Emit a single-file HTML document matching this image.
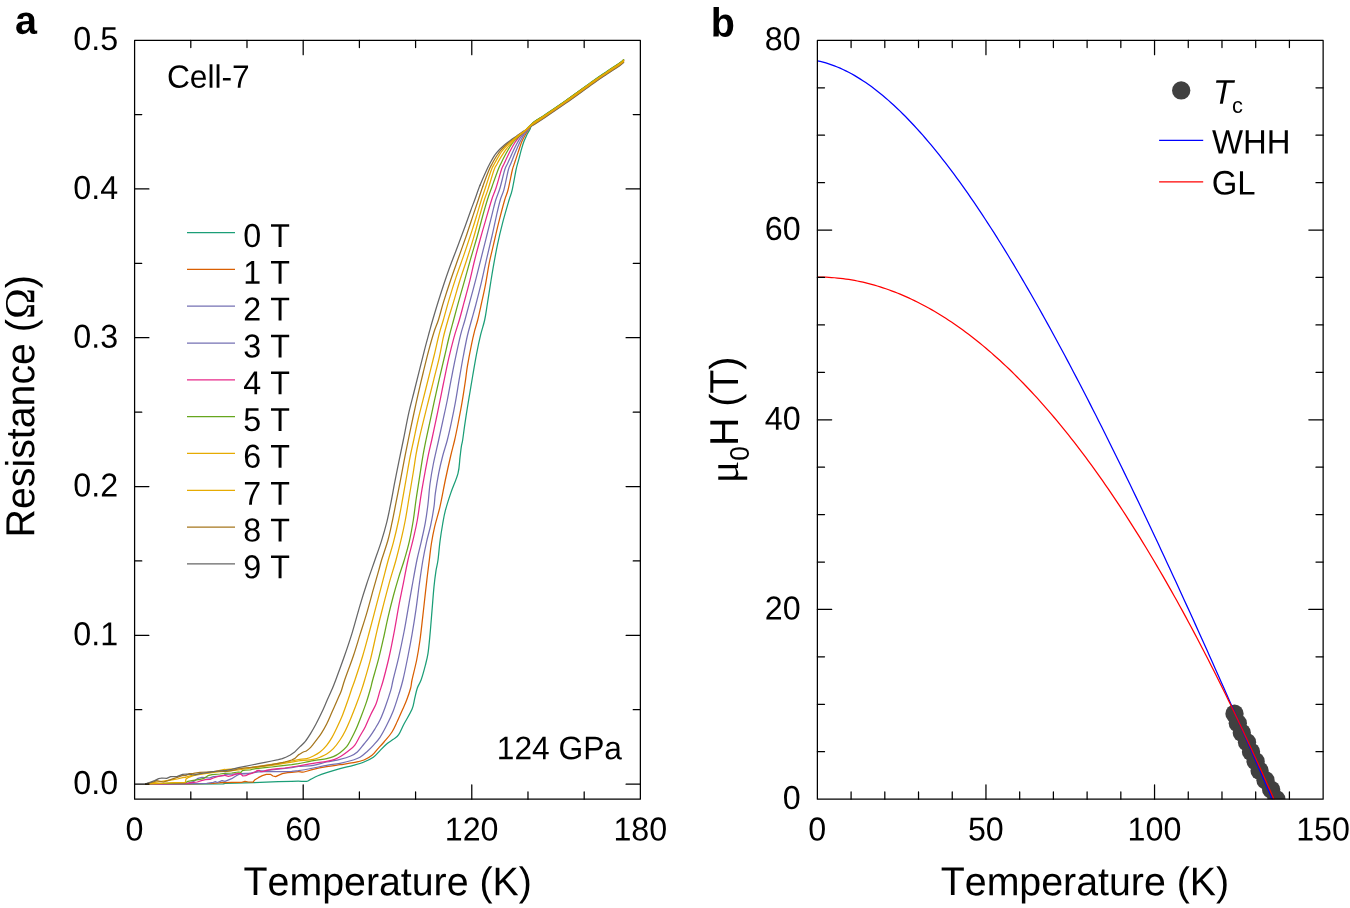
<!DOCTYPE html>
<html lang="en"><head><meta charset="utf-8"><title>Resistance vs temperature and upper critical field</title>
<style>html,body{margin:0;padding:0;background:#fff}body{width:1350px;height:908px;overflow:hidden}svg text{white-space:pre;font-kerning:none;text-rendering:geometricPrecision}</style>
</head><body>
<svg width="1350" height="908" viewBox="0 0 1350 908" style="display:block" font-family='"Liberation Sans", sans-serif' fill="#000">
<rect x="0" y="0" width="1350" height="908" fill="#fff"/>
<g id="plot-a">
<clipPath id="ca"><rect x="134.6" y="40.375" width="505.775" height="758.755"/></clipPath>
<g clip-path="url(#ca)" fill="none" stroke-width="1.25" stroke-linejoin="round" stroke-linecap="round">
<path d="M480 185.33C482 180.33 485 173.67 486.67 170C488.33 166.33 488.89 165.44 490 163.33C491.11 161.22 492.22 159.11 493.33 157.33C494.44 155.56 495.56 154.06 496.67 152.67C497.78 151.28 498.67 150.33 500 149C501.33 147.67 503 146.06 504.67 144.67C506.33 143.28 508 142.11 510 140.67C512 139.22 514.44 137.56 516.67 136C518.89 134.44 520.61 133.12 523.33 131.33C526.06 129.55 529.39 127.61 533 125.3C536.61 122.99 539.5 121.2 545 117.5C550.5 113.8 557.95 108.77 566 103.1C574.05 97.43 586.52 88.3 593.3 83.5C600.08 78.7 602.25 77.32 606.7 74.3C611.15 71.28 617.18 67.38 620 65.4C622.82 63.42 623 62.9 623.6 62.4" stroke="#666666"/>
<path d="M482.67 186.67C484.46 181.67 487.44 173.78 489 170C490.56 166.22 490.94 166 492 164C493.06 162 494.33 159.67 495.33 158C496.33 156.33 497 155.39 498 154C499 152.61 500 151.17 501.33 149.67C502.67 148.17 504.33 146.5 506 145C507.67 143.5 509.44 142.14 511.33 140.67C513.22 139.19 515.22 137.67 517.33 136.13C519.44 134.6 521.39 133.36 524 131.47C526.61 129.58 529.5 127.21 533 124.8C536.5 122.39 539.5 120.7 545 117C550.5 113.3 557.95 108.27 566 102.6C574.05 96.93 586.52 87.8 593.3 83C600.08 78.2 602.25 76.82 606.7 73.8C611.15 70.78 617.18 66.88 620 64.9C622.82 62.92 623 62.4 623.6 61.9" stroke="#a6761d"/>
<path d="M145.67 784.2L186.67 784.07L223.33 783.87L225 783.33L253.67 782.67L278.33 781.67L291.67 781.33L298.33 781.2C300.83 781.2 304.61 781.64 306.67 781.33C308.72 781.02 308.89 780.22 310.67 779.33C312.44 778.44 314.67 777.11 317.33 776C320 774.89 322.89 773.89 326.67 772.67C330.44 771.44 335.56 769.89 340 768.67C344.44 767.44 349.33 766.44 353.33 765.33C357.33 764.22 360.67 763.33 364 762C367.33 760.67 370.67 759.22 373.33 757.33C376 755.44 377.78 752.89 380 750.67C382.22 748.44 384.44 745.89 386.67 744C388.89 742.11 391.33 740.89 393.33 739.33C395.33 737.78 396.89 737.22 398.67 734.67C400.44 732.11 401.78 728.22 404 724C406.22 719.78 410.22 713.56 412 709.33C413.78 705.11 413.78 702.22 414.67 698.67C415.56 695.11 416.27 691.11 417.33 688C418.4 684.89 419.73 683.78 421.07 680C422.4 676.22 424.18 669.78 425.33 665.33C426.49 660.89 427.22 658.44 428 653.33C428.78 648.22 429.33 641.78 430 634.67C430.67 627.56 431.33 618.67 432 610.67C432.67 602.67 433.33 593.33 434 586.67C434.67 580 435.33 575.11 436 570.67C436.67 566.22 437.33 564.89 438 560C438.67 555.11 439.22 547.33 440 541.33C440.78 535.33 441.78 529.11 442.67 524C443.56 518.89 444 515.78 445.33 510.67C446.67 505.56 448.56 499.56 450.67 493.33C452.78 487.11 456.44 479.33 458 473.33C459.56 467.33 459.44 461.78 460 457.33C460.56 452.89 460.89 449.56 461.33 446.67C461.78 443.78 462.11 443.56 462.67 440C463.22 436.44 463.89 430.67 464.67 425.33C465.44 420 466.44 413.56 467.33 408C468.22 402.44 469.11 397.33 470 392C470.89 386.67 471.56 382.44 472.67 376C473.78 369.56 475.33 360.22 476.67 353.33C478 346.44 479.33 340.22 480.67 334.67C482 329.11 483.56 325.11 484.67 320C485.78 314.89 486.33 310.22 487.33 304C488.33 297.78 489.67 288.89 490.67 282.67C491.67 276.44 492.22 272.89 493.33 266.67C494.44 260.44 495.78 252.67 497.33 245.33C498.89 238 500.71 230.22 502.67 222.67C504.62 215.11 507.51 205.33 509.07 200C510.62 194.67 510.84 195.67 512 190.67C513.16 185.67 515.11 174.33 516 170C516.89 165.67 516.83 166.56 517.33 164.67C517.83 162.78 518.5 160.56 519 158.67C519.5 156.78 519.83 155.22 520.33 153.33C520.83 151.44 521.39 149.33 522 147.33C522.61 145.33 523.33 143.11 524 141.33C524.67 139.56 525.33 138.11 526 136.67C526.67 135.22 527.33 133.89 528 132.67C528.67 131.44 529.11 131.03 530 129.33C530.89 127.63 530.83 124.89 533.33 122.47C535.83 120.04 539.56 118.48 545 114.8C550.44 111.12 557.95 106.07 566 100.4C574.05 94.73 586.52 85.6 593.3 80.8C600.08 76 602.25 74.62 606.7 71.6C611.15 68.58 617.18 64.68 620 62.7C622.82 60.72 623 60.2 623.6 59.7" stroke="#1b9e77"/>
<path d="M145.67 784.2L186.67 783.8L213.33 783.33L223.33 782.47L225 782.67L231.67 782.33L241.67 782.33L245 781.33L248.33 782L253 782.2L255 779.67L258.33 777.67L262.33 775.67L266.33 774.33L270.33 774.33L273 776L275.67 776.67L278.33 775.33L282.33 773.67L287.67 772.67L291.67 772.33L298.33 771.67C300.39 771.61 301.5 772.39 304 772C306.5 771.61 309.56 770.22 313.33 769.33C317.11 768.44 322.22 767.44 326.67 766.67C331.11 765.89 335.56 765.33 340 764.67C344.44 764 349.33 763.44 353.33 762.67C357.33 761.89 360.89 761.22 364 760C367.11 758.78 369.78 757.11 372 755.33C374.22 753.56 375.33 751.56 377.33 749.33C379.33 747.11 381.56 744.89 384 742C386.44 739.11 389.78 735.44 392 732C394.22 728.56 395.56 725.11 397.33 721.33C399.11 717.56 401.11 712.89 402.67 709.33C404.22 705.78 405.33 703.56 406.67 700C408 696.44 409.78 691.33 410.67 688C411.56 684.67 411 684.67 412 680C413 675.33 415.33 666.67 416.67 660C418 653.33 419 647.11 420 640C421 632.89 421.78 625.11 422.67 617.33C423.56 609.56 424.56 600.22 425.33 593.33C426.11 586.44 426.67 581.56 427.33 576C428 570.44 428.67 565.33 429.33 560C430 554.67 430.44 549.56 431.33 544C432.22 538.44 433.22 532.89 434.67 526.67C436.11 520.44 438.22 514.44 440 506.67C441.78 498.89 443.56 488.44 445.33 480C447.11 471.56 449.11 462.67 450.67 456C452.22 449.33 453.44 445.33 454.67 440C455.89 434.67 456.78 430.22 458 424C459.22 417.78 460.78 409.78 462 402.67C463.22 395.56 464.44 387.33 465.33 381.33C466.22 375.33 466.33 372.67 467.33 366.67C468.33 360.67 470.11 351.33 471.33 345.33C472.56 339.33 473.6 334.89 474.67 330.67C475.73 326.44 476.62 324.44 477.73 320C478.84 315.56 480.07 309.78 481.33 304C482.6 298.22 484 292.22 485.33 285.33C486.67 278.44 488 269.33 489.33 262.67C490.67 256 491.78 252 493.33 245.33C494.89 238.67 496.78 230.22 498.67 222.67C500.56 215.11 503.11 205.44 504.67 200C506.22 194.56 506.72 195 508 190C509.28 185 511.33 174.22 512.33 170C513.33 165.78 513.39 166.56 514 164.67C514.61 162.78 515.33 160.67 516 158.67C516.67 156.67 517.33 154.67 518 152.67C518.67 150.67 519.33 148.56 520 146.67C520.67 144.78 521.22 143.11 522 141.33C522.78 139.56 523.78 137.67 524.67 136C525.56 134.33 526.56 132.56 527.33 131.33C528.11 130.11 528.39 130.06 529.33 128.67C530.28 127.28 530.39 125.24 533 123C535.61 120.76 539.5 118.9 545 115.2C550.5 111.5 557.95 106.47 566 100.8C574.05 95.13 586.52 86 593.3 81.2C600.08 76.4 602.25 75.02 606.7 72C611.15 68.98 617.18 65.08 620 63.1C622.82 61.12 623 60.6 623.6 60.1" stroke="#d95f02"/>
<path d="M145.67 784.13L206.67 783.33L213.33 782.33L215.33 781.67L217.33 782.47L222 780.67L225 781.33L231.67 778.67L236.33 775.67L240.33 773.8L245 774L251.67 773L258.33 772L265 771.67L271.67 771.53L278.33 771.67L285 771.67L291.67 771.33L298.33 770.67C301.94 770.11 308.61 768.89 313.33 768C318.06 767.11 322.22 766.11 326.67 765.33C331.11 764.56 335.56 764.22 340 763.33C344.44 762.44 350 761 353.33 760C356.67 759 357.78 758.67 360 757.33C362.22 756 364.44 754 366.67 752C368.89 750 371.11 747.78 373.33 745.33C375.56 742.89 377.78 740.67 380 737.33C382.22 734 384.44 729.78 386.67 725.33C388.89 720.89 391.33 715.78 393.33 710.67C395.33 705.56 397.07 699.78 398.67 694.67C400.27 689.56 401.38 686.44 402.93 680C404.49 673.56 406.49 663.56 408 656C409.51 648.44 410.67 642.44 412 634.67C413.33 626.89 414.78 617.78 416 609.33C417.22 600.89 418.18 592.22 419.33 584C420.49 575.78 421.71 567.11 422.93 560C424.16 552.89 425.38 547.11 426.67 541.33C427.96 535.56 429.44 531.11 430.67 525.33C431.89 519.56 433.22 512 434 506.67C434.78 501.33 434.56 498.89 435.33 493.33C436.11 487.78 437.44 479.56 438.67 473.33C439.89 467.11 441.22 461.56 442.67 456C444.11 450.44 445.89 445.56 447.33 440C448.78 434.44 450 428.89 451.33 422.67C452.67 416.44 454 410 455.33 402.67C456.67 395.33 458 386.44 459.33 378.67C460.67 370.89 462 363.11 463.33 356C464.67 348.89 465.96 342 467.33 336C468.71 330 470.16 325.33 471.6 320C473.04 314.67 474.38 310.22 476 304C477.62 297.78 479.56 290.22 481.33 282.67C483.11 275.11 484.89 266.44 486.67 258.67C488.44 250.89 490.33 243.33 492 236C493.67 228.67 495.29 220.67 496.67 214.67C498.04 208.67 499.04 204.22 500.27 200C501.49 195.78 502.66 194.33 504 189.33C505.34 184.33 507.22 174.22 508.33 170C509.44 165.78 509.83 166.11 510.67 164C511.5 161.89 512.44 159.56 513.33 157.33C514.22 155.11 515.11 152.78 516 150.67C516.89 148.56 517.78 146.56 518.67 144.67C519.56 142.78 520.44 141 521.33 139.33C522.22 137.67 523.11 136 524 134.67C524.89 133.33 525.17 133.18 526.67 131.33C528.17 129.49 529.94 126.19 533 123.6C536.06 121.01 539.5 119.5 545 115.8C550.5 112.1 557.95 107.07 566 101.4C574.05 95.73 586.52 86.6 593.3 81.8C600.08 77 602.25 75.62 606.7 72.6C611.15 69.58 617.18 65.68 620 63.7C622.82 61.72 623 61.2 623.6 60.7" stroke="#7570b3"/>
<path d="M145.67 784.13L186.67 783.53L193.33 781.67L198 778.33L202 777.33L205.33 777.67L209.33 778.13L213.33 776.67L220 776L224 775.67L225 774.33L231.67 774.2L240.33 773.67L251.67 773L258.33 770.87L265 770.67L271.67 770L278.33 769.13L285 768.47L291.67 767.67L298.33 766.47C301.94 766.08 308.61 766.08 313.33 765.33C318.06 764.59 322.22 763 326.67 762C331.11 761 336 760.33 340 759.33C344 758.33 347.78 757.22 350.67 756C353.56 754.78 355.11 754 357.33 752C359.56 750 362 746.44 364 744C366 741.56 367.56 739.78 369.33 737.33C371.11 734.89 372.89 732.22 374.67 729.33C376.44 726.44 378.22 723.78 380 720C381.78 716.22 383.56 711.56 385.33 706.67C387.11 701.78 389.38 695.11 390.67 690.67C391.96 686.22 391.73 685.56 393.07 680C394.4 674.44 396.84 665.33 398.67 657.33C400.49 649.33 402.44 640 404 632C405.56 624 406.67 616.89 408 609.33C409.33 601.78 410.51 594.89 412 586.67C413.49 578.44 415.38 567.56 416.93 560C418.49 552.44 419.93 547.56 421.33 541.33C422.73 535.11 424.22 528.89 425.33 522.67C426.44 516.44 427.22 510.44 428 504C428.78 497.56 429.11 490.67 430 484C430.89 477.33 431.89 471.33 433.33 464C434.78 456.67 437 447.56 438.67 440C440.33 432.44 441.89 425.33 443.33 418.67C444.78 412 446 406.67 447.33 400C448.67 393.33 450 385.56 451.33 378.67C452.67 371.78 453.78 366 455.33 358.67C456.89 351.33 459.07 341.11 460.67 334.67C462.27 328.22 463.27 326 464.93 320C466.6 314 468.82 305.56 470.67 298.67C472.51 291.78 474.22 285.56 476 278.67C477.78 271.78 479.56 264.44 481.33 257.33C483.11 250.22 484.89 243.11 486.67 236C488.44 228.89 490.49 220.67 492 214.67C493.51 208.67 494.4 204.44 495.73 200C497.07 195.56 498.51 193 500 188C501.49 183 503.44 174 504.67 170C505.89 166 506.33 166.22 507.33 164C508.33 161.78 509.67 158.89 510.67 156.67C511.67 154.44 512.33 152.78 513.33 150.67C514.33 148.56 515.67 145.89 516.67 144C517.67 142.11 518.44 140.72 519.33 139.33C520.22 137.94 521 136.94 522 135.67C523 134.39 523.5 133.68 525.33 131.67C527.17 129.66 529.72 126.24 533 123.6C536.28 120.96 539.5 119.5 545 115.8C550.5 112.1 557.95 107.07 566 101.4C574.05 95.73 586.52 86.6 593.3 81.8C600.08 77 602.25 75.62 606.7 72.6C611.15 69.58 617.18 65.68 620 63.7C622.82 61.72 623 61.2 623.6 60.7" stroke="#7570b3"/>
<path d="M145.67 784.07L186.67 783.33L192 782.67L197.33 782L201.33 780.67L205.33 779.67L210 779.33L213.33 778L217.33 776.67L223.33 775.33L225 775.33L228.33 776.33L231.67 775.67L235 774.33L238.33 773.33L240.33 773.67L243 776L245.67 775.67L248.33 774.33L251.67 773.33L255 772L257 770.67L259 770.33L261 771.67L263.67 771.33L266.33 770.33L271.67 769.33L278.33 768.67L285 768L291.67 767L298.33 766C301.94 765.39 308.61 764.11 313.33 763.33C318.06 762.56 323.11 762 326.67 761.33C330.22 760.67 332.22 760.22 334.67 759.33C337.11 758.44 339.11 757.33 341.33 756C343.56 754.67 345.78 753.11 348 751.33C350.22 749.56 352.67 747.89 354.67 745.33C356.67 742.78 358.22 739.11 360 736C361.78 732.89 363.56 730.22 365.33 726.67C367.11 723.11 368.89 718.44 370.67 714.67C372.44 710.89 374.44 708 376 704C377.56 700 378.78 694.67 380 690.67C381.22 686.67 381.78 685.78 383.33 680C384.89 674.22 387.44 664.44 389.33 656C391.22 647.56 393.11 637.56 394.67 629.33C396.22 621.11 397.33 613.78 398.67 606.67C400 599.56 401.11 594.44 402.67 586.67C404.22 578.89 406.22 568 408 560C409.78 552 411.78 545.33 413.33 538.67C414.89 532 416 527.56 417.33 520C418.67 512.44 420 501.56 421.33 493.33C422.67 485.11 424.11 477.33 425.33 470.67C426.56 464 427.6 458.44 428.67 453.33C429.73 448.22 430.51 445.56 431.73 440C432.96 434.44 434.51 427.11 436 420C437.49 412.89 439.44 403.33 440.67 397.33C441.89 391.33 442 390.44 443.33 384C444.67 377.56 446.89 366.44 448.67 358.67C450.44 350.89 452.22 343.78 454 337.33C455.78 330.89 457.67 325.78 459.33 320C461 314.22 462.33 308.89 464 302.67C465.67 296.44 467.56 289.78 469.33 282.67C471.11 275.56 472.89 267.11 474.67 260C476.44 252.89 478.22 246.44 480 240C481.78 233.56 483.4 228 485.33 221.33C487.27 214.67 489.82 205.56 491.6 200C493.38 194.44 494.38 193 496 188C497.62 183 500 174 501.33 170C502.67 166 503 166.22 504 164C505 161.78 506.22 159 507.33 156.67C508.44 154.33 509.56 152.11 510.67 150C511.78 147.89 513 145.67 514 144C515 142.33 515.67 141.33 516.67 140C517.67 138.67 518.78 137.28 520 136C521.22 134.72 521.83 134.4 524 132.33C526.17 130.27 529.5 126.36 533 123.6C536.5 120.84 539.5 119.5 545 115.8C550.5 112.1 557.95 107.07 566 101.4C574.05 95.73 586.52 86.6 593.3 81.8C600.08 77 602.25 75.62 606.7 72.6C611.15 69.58 617.18 65.68 620 63.7C622.82 61.72 623 61.2 623.6 60.7" stroke="#e7298a"/>
<path d="M145.67 784L185.33 782.87L188 781.33L193.33 780.33L200 779.33L204 778.33L208 775.67L212 774.67L220 774L224.67 773.4L225 773.33L231.67 773L238.33 772L241 772.33L242.33 770.67L245 770.2L250.33 770L251.67 769.33L258.33 768.33L265 767.67L271.67 767L278.33 766.2L285 765.33L291.67 764.67L298.33 763.67C301.94 763 308.61 761.5 313.33 760.67C318.06 759.83 323.33 759.33 326.67 758.67C330 758 331.11 757.67 333.33 756.67C335.56 755.67 337.78 754.33 340 752.67C342.22 751 344.89 748.78 346.67 746.67C348.44 744.56 349.11 742.89 350.67 740C352.22 737.11 354.22 733.33 356 729.33C357.78 725.33 359.56 720.67 361.33 716C363.11 711.33 365.11 706 366.67 701.33C368.22 696.67 369.67 691.56 370.67 688C371.67 684.44 371.33 684.89 372.67 680C374 675.11 376.78 666 378.67 658.67C380.56 651.33 382.44 642.89 384 636C385.56 629.11 386.44 624 388 617.33C389.56 610.67 391.56 602.67 393.33 596C395.11 589.33 396.84 583.33 398.67 577.33C400.49 571.33 402.49 566 404.27 560C406.04 554 407.82 548 409.33 541.33C410.84 534.67 412.22 526.89 413.33 520C414.44 513.11 415 506.89 416 500C417 493.11 418.22 485.78 419.33 478.67C420.44 471.56 421.56 463.78 422.67 457.33C423.78 450.89 424.78 446 426 440C427.22 434 428.67 427.56 430 421.33C431.33 415.11 432.44 409.78 434 402.67C435.56 395.56 437.56 386.44 439.33 378.67C441.11 370.89 443 363.11 444.67 356C446.33 348.89 447.84 342 449.33 336C450.82 330 452.04 325.78 453.6 320C455.16 314.22 456.93 307.56 458.67 301.33C460.4 295.11 462 289.78 464 282.67C466 275.56 468.44 266.44 470.67 258.67C472.89 250.89 475.33 243.11 477.33 236C479.33 228.89 481 222 482.67 216C484.33 210 485.78 204.89 487.33 200C488.89 195.11 490.22 191.67 492 186.67C493.78 181.67 496.44 174 498 170C499.56 166 500.22 165 501.33 162.67C502.44 160.33 503.56 158.11 504.67 156C505.78 153.89 506.89 151.89 508 150C509.11 148.11 510.22 146.28 511.33 144.67C512.44 143.06 513.33 141.78 514.67 140.33C516 138.89 517.89 137.28 519.33 136C520.78 134.72 521.06 134.88 523.33 132.67C525.61 130.45 529.39 125.66 533 122.7C536.61 119.74 539.5 118.6 545 114.9C550.5 111.2 557.95 106.17 566 100.5C574.05 94.83 586.52 85.7 593.3 80.9C600.08 76.1 602.25 74.72 606.7 71.7C611.15 68.68 617.18 64.78 620 62.8C622.82 60.82 623 60.3 623.6 59.8" stroke="#66a61e"/>
<path d="M145.67 783.93L160 783.33L173.33 782.67L185.33 782.33L186 779L188 777.67L193.33 775.67L200 774.33L206.67 773.33L213.33 772.47L220 771.67L225 771.33L231.67 770.67L238.33 770L245 769L251.67 768L258.33 767.13L265 766.2L271.67 765.33L278.33 764.33L285 763.13L291.67 762.2L298.33 761C301.94 760.52 309.5 760.06 313.33 759.33C317.17 758.61 319.11 757.56 321.33 756.67C323.56 755.78 324.67 755.33 326.67 754C328.67 752.67 331.11 751 333.33 748.67C335.56 746.33 338 743 340 740C342 737 343.56 734.22 345.33 730.67C347.11 727.11 348.89 722.89 350.67 718.67C352.44 714.44 354.22 710 356 705.33C357.78 700.67 359.89 694.89 361.33 690.67C362.78 686.44 363.11 685.33 364.67 680C366.22 674.67 368.56 667.11 370.67 658.67C372.78 650.22 375.33 637.78 377.33 629.33C379.33 620.89 380.67 615.78 382.67 608C384.67 600.22 387.11 590.67 389.33 582.67C391.56 574.67 394 567.33 396 560C398 552.67 399.78 545.33 401.33 538.67C402.89 532 404 527.11 405.33 520C406.67 512.89 408 504 409.33 496C410.67 488 412.22 478.89 413.33 472C414.44 465.11 415.07 460 416 454.67C416.93 449.33 417.71 445.56 418.93 440C420.16 434.44 421.71 428 423.33 421.33C424.96 414.67 426.89 407.11 428.67 400C430.44 392.89 432.22 385.78 434 378.67C435.78 371.56 437.78 364.22 439.33 357.33C440.89 350.44 441.89 343.56 443.33 337.33C444.78 331.11 446.33 325.78 448 320C449.67 314.22 451.33 309.33 453.33 302.67C455.33 296 457.78 287.11 460 280C462.22 272.89 464.44 266.89 466.67 260C468.89 253.11 471.11 246.22 473.33 238.67C475.56 231.11 478.18 221.11 480 214.67C481.82 208.22 482.93 204.22 484.27 200C485.6 195.78 486.38 194.33 488 189.33C489.62 184.33 492.56 174.11 494 170C495.44 165.89 495.67 166.56 496.67 164.67C497.67 162.78 498.89 160.56 500 158.67C501.11 156.78 502.22 155 503.33 153.33C504.44 151.67 505.56 150.11 506.67 148.67C507.78 147.22 508.78 146.06 510 144.67C511.22 143.28 512.56 141.83 514 140.33C515.44 138.83 516.83 137.22 518.67 135.67C520.5 134.11 522.61 133.09 525 131C527.39 128.91 529.67 125.76 533 123.15C536.33 120.54 539.5 119.05 545 115.35C550.5 111.65 557.95 106.62 566 100.95C574.05 95.28 586.52 86.15 593.3 81.35C600.08 76.55 602.25 75.17 606.7 72.15C611.15 69.13 617.18 65.23 620 63.25C622.82 61.27 623 60.75 623.6 60.25" stroke="#e6ab02"/>
<path d="M145.67 783.93L153.33 782.67L160 781.67L166.67 780.67L173.33 779.67L177.33 779L182.67 777.67L185.33 777.33L188 776.33L193.33 775L200 774L206.67 773L213.33 772.2L220 770.33L224.67 769.33L225 769.53L230 769.13L238.33 768.67L245 768L251.67 767.33L258.33 766.33L265 765.33L271.67 764.33L278.33 763.33L285 762.2L291.67 761L298.33 759.53C300.83 759.14 304.17 759.26 306.67 758.67C309.17 758.08 311.11 757.11 313.33 756C315.56 754.89 317.78 753.78 320 752C322.22 750.22 324.67 747.78 326.67 745.33C328.67 742.89 330.22 740.44 332 737.33C333.78 734.22 335.56 730.44 337.33 726.67C339.11 722.89 340.89 719.11 342.67 714.67C344.44 710.22 346.44 704.44 348 700C349.56 695.56 350.84 691.33 352 688C353.16 684.67 353.16 685.33 354.93 680C356.71 674.67 360.27 664 362.67 656C365.07 648 367.11 640.22 369.33 632C371.56 623.78 373.78 615.11 376 606.67C378.22 598.22 380.62 589.11 382.67 581.33C384.71 573.56 386.49 566.44 388.27 560C390.04 553.56 391.6 549.33 393.33 542.67C395.07 536 397.11 527.33 398.67 520C400.22 512.67 401.33 506 402.67 498.67C404 491.33 405.44 482.89 406.67 476C407.89 469.11 408.82 463.33 410 457.33C411.18 451.33 412.4 446.22 413.73 440C415.07 433.78 416.4 426.89 418 420C419.6 413.11 421.56 405.78 423.33 398.67C425.11 391.56 426.89 384.44 428.67 377.33C430.44 370.22 432.22 363.33 434 356C435.78 348.67 437.78 339.33 439.33 333.33C440.89 327.33 441.67 325.78 443.33 320C445 314.22 447.22 305.78 449.33 298.67C451.44 291.56 453.56 284.67 456 277.33C458.44 270 461.33 262.44 464 254.67C466.67 246.89 469.78 237.56 472 230.67C474.22 223.78 475.78 218.44 477.33 213.33C478.89 208.22 480 204.22 481.33 200C482.67 195.78 483.67 193 485.33 188C487 183 489.78 174.11 491.33 170C492.89 165.89 493.56 165.44 494.67 163.33C495.78 161.22 496.89 159.22 498 157.33C499.11 155.44 500.22 153.56 501.33 152C502.44 150.44 503.44 149.33 504.67 148C505.89 146.67 507.33 145.28 508.67 144C510 142.72 511.11 141.72 512.67 140.33C514.22 138.94 516 137.22 518 135.67C520 134.11 522.17 132.94 524.67 131C527.17 129.06 529.61 126.51 533 124.05C536.39 121.59 539.5 119.95 545 116.25C550.5 112.55 557.95 107.52 566 101.85C574.05 96.18 586.52 87.05 593.3 82.25C600.08 77.45 602.25 76.07 606.7 73.05C611.15 70.03 617.18 66.13 620 64.15C622.82 62.17 623 61.65 623.6 61.15" stroke="#e6ab02"/>
<path d="M145.67 783.87L153.33 782L156.67 780.67L160 781.33L163.33 782L168 780.67L173.33 778.67L177.33 777.33L182.67 775.33L185.33 775.67L189.33 773.67L193.33 773.33L200 772.47L206.67 772L213.33 771.53L220 771L225 771.67L231.67 770.67L238.33 769L245 768L251.67 767.33L258.33 766.67L265 765.67L271.67 764.67L278.33 763.33L285 762L291.67 760L295 758.33L298.33 755C299.17 754.28 299.17 754.5 300 754C300.83 753.5 302.22 752.56 303.33 752C304.44 751.44 305.44 751.44 306.67 750.67C307.89 749.89 309.11 749 310.67 747.33C312.22 745.67 314.22 743 316 740.67C317.78 738.33 319.56 736.11 321.33 733.33C323.11 730.56 324.89 727.56 326.67 724C328.44 720.44 330.22 716 332 712C333.78 708 335.78 703.56 337.33 700C338.89 696.44 340.11 694 341.33 690.67C342.56 687.33 342.67 685.78 344.67 680C346.67 674.22 350.78 663.56 353.33 656C355.89 648.44 357.78 641.78 360 634.67C362.22 627.56 364.44 620.89 366.67 613.33C368.89 605.78 371.33 596.44 373.33 589.33C375.33 582.22 377.29 575.56 378.67 570.67C380.04 565.78 380.04 565.11 381.6 560C383.16 554.89 386.27 546.22 388 540C389.73 533.78 390.67 528.89 392 522.67C393.33 516.44 394.67 509.33 396 502.67C397.33 496 398.67 489.56 400 482.67C401.33 475.78 402.62 468.44 404 461.33C405.38 454.22 406.71 447.56 408.27 440C409.82 432.44 411.71 423.56 413.33 416C414.96 408.44 416.33 402 418 394.67C419.67 387.33 421.56 379.33 423.33 372C425.11 364.67 426.89 357.33 428.67 350.67C430.44 344 432.38 337.11 434 332C435.62 326.89 436.84 324.89 438.4 320C439.96 315.11 441.29 309.33 443.33 302.67C445.38 296 448.11 287.56 450.67 280C453.22 272.44 456 264.89 458.67 257.33C461.33 249.78 464.22 241.78 466.67 234.67C469.11 227.56 471.4 220.44 473.33 214.67C475.27 208.89 476.71 204.67 478.27 200C479.82 195.33 480.88 191.67 482.67 186.67" stroke="#a6761d"/>
<path d="M145.67 783.8L150 782.33L154.67 780.67L158.67 778.67L162 778L166.67 778.33L170.67 776.67L177.33 776.33L182.67 774.33L186.67 774L192 774.67L194.67 774.87L200 773.67L206.67 772.67L213.33 771.67L218 771L223.33 770.67L225 770.67L231.67 769.33L238.33 767.67L245 766.33L251.67 765L258.33 763.67L265 762.33L271.67 761L278.33 759.67L282.33 758.67L286.33 757L290.33 755L294.33 752.33L300 746.67C301.83 744.83 303.56 743.56 305.33 741.33C307.11 739.11 308.89 736.22 310.67 733.33C312.44 730.44 314.22 727.33 316 724C317.78 720.67 319.56 717.11 321.33 713.33C323.11 709.56 324.89 705.33 326.67 701.33C328.44 697.33 330.49 692.89 332 689.33C333.51 685.78 333.73 685.33 335.73 680C337.73 674.67 341.29 665.11 344 657.33C346.71 649.56 349.33 642 352 633.33C354.67 624.67 357.56 613.56 360 605.33C362.44 597.11 364.18 591.56 366.67 584C369.16 576.44 372.49 567.11 374.93 560C377.38 552.89 379.38 547.56 381.33 541.33C383.29 535.11 385.11 528.89 386.67 522.67C388.22 516.44 389.33 510.67 390.67 504C392 497.33 393.33 489.56 394.67 482.67C396 475.78 397.22 469.78 398.67 462.67C400.11 455.56 401.67 448.22 403.33 440C405 431.78 406.89 421.33 408.67 413.33C410.44 405.33 412.22 399.11 414 392C415.78 384.89 417.56 377.78 419.33 370.67C421.11 363.56 423 355.78 424.67 349.33C426.33 342.89 428 336.89 429.33 332C430.67 327.11 430.89 326 432.67 320C434.44 314 437.44 304 440 296C442.56 288 445.33 279.56 448 272C450.67 264.44 453.33 257.78 456 250.67C458.67 243.56 461.56 236 464 229.33C466.44 222.67 468.89 215.56 470.67 210.67C472.44 205.78 473.11 204.22 474.67 200C476.22 195.78 478 190.33 480 185.33" stroke="#666666"/>
</g>
<path d="M303.19 799.13V784.83M303.19 40.38V54.67M471.78 799.13V784.83M471.78 40.38V54.67M190.8 799.13V791.98M190.8 40.38V47.52M246.99 799.13V791.98M246.99 40.38V47.52M359.39 799.13V791.98M359.39 40.38V47.52M415.59 799.13V791.98M415.59 40.38V47.52M527.98 799.13V791.98M527.98 40.38V47.52M584.18 799.13V791.98M584.18 40.38V47.52M134.6 784.13H148.9M640.38 784.13H626.08M134.6 635.33H148.9M640.38 635.33H626.08M134.6 486.53H148.9M640.38 486.53H626.08M134.6 337.73H148.9M640.38 337.73H626.08M134.6 188.93H148.9M640.38 188.93H626.08M134.6 709.73H141.75M640.38 709.73H633.23M134.6 560.93H141.75M640.38 560.93H633.23M134.6 412.13H141.75M640.38 412.13H633.23M134.6 263.33H141.75M640.38 263.33H633.23M134.6 114.53H141.75M640.38 114.53H633.23" stroke="#000" stroke-width="1.25" fill="none" stroke-linecap="round"/>
<rect x="134.6" y="40.375" width="505.77" height="758.75" fill="none" stroke="#000" stroke-width="1.25" stroke-linejoin="round"/>
<text transform="translate(118.1 794.11) rotate(0.03) scale(1 1.03)" font-size="32.2" text-anchor="end">0.0</text>
<text transform="translate(118.1 645.31) rotate(0.03) scale(1 1.03)" font-size="32.2" text-anchor="end">0.1</text>
<text transform="translate(118.1 496.51) rotate(0.03) scale(1 1.03)" font-size="32.2" text-anchor="end">0.2</text>
<text transform="translate(118.1 347.71) rotate(0.03) scale(1 1.03)" font-size="32.2" text-anchor="end">0.3</text>
<text transform="translate(118.1 198.91) rotate(0.03) scale(1 1.03)" font-size="32.2" text-anchor="end">0.4</text>
<text transform="translate(118.1 50.11) rotate(0.03) scale(1 1.03)" font-size="32.2" text-anchor="end">0.5</text>
<text transform="translate(134.5 840.45) rotate(0.03) scale(1 1.03)" font-size="32.2" text-anchor="middle">0</text>
<text transform="translate(303.09 840.45) rotate(0.03) scale(1 1.03)" font-size="32.2" text-anchor="middle">60</text>
<text transform="translate(471.68 840.45) rotate(0.03) scale(1 1.03)" font-size="32.2" text-anchor="middle">120</text>
<text transform="translate(640.27 840.45) rotate(0.03) scale(1 1.03)" font-size="32.2" text-anchor="middle">180</text>
<text transform="translate(387.7 895.2) rotate(0.03) scale(1 1.015)" font-size="39.3" text-anchor="middle">Temperature (K)</text>
<text transform="translate(34.2 406.3) rotate(-89.97) scale(1 1.03)" font-size="39.3" text-anchor="middle">Resistance (<tspan font-family='"Liberation Serif", "DejaVu Serif", serif' font-size="41.5">Ω</tspan>)</text>
<text transform="translate(15 33.7) rotate(0.03)" font-size="39.5" font-weight="bold">a</text>
<text transform="translate(166.9 87.7) rotate(0.03) scale(1 1.02)" font-size="31.7">Cell-7</text>
<text transform="translate(621.9 759.2) rotate(0.03) scale(1 1.03)" font-size="31.7" text-anchor="end">124 GPa</text>
<path d="M187 232.6H235" stroke="#1b9e77" stroke-width="1.25" fill="none"/>
<text transform="translate(243.3 247) rotate(0.03) scale(1 1.03)" font-size="32.2">0 T</text>
<path d="M187 269.41H235" stroke="#d95f02" stroke-width="1.25" fill="none"/>
<text transform="translate(243.3 283.81) rotate(0.03) scale(1 1.03)" font-size="32.2">1 T</text>
<path d="M187 306.21H235" stroke="#7570b3" stroke-width="1.25" fill="none"/>
<text transform="translate(243.3 320.61) rotate(0.03) scale(1 1.03)" font-size="32.2">2 T</text>
<path d="M187 343.02H235" stroke="#7570b3" stroke-width="1.25" fill="none"/>
<text transform="translate(243.3 357.42) rotate(0.03) scale(1 1.03)" font-size="32.2">3 T</text>
<path d="M187 379.83H235" stroke="#e7298a" stroke-width="1.25" fill="none"/>
<text transform="translate(243.3 394.23) rotate(0.03) scale(1 1.03)" font-size="32.2">4 T</text>
<path d="M187 416.63H235" stroke="#66a61e" stroke-width="1.25" fill="none"/>
<text transform="translate(243.3 431.03) rotate(0.03) scale(1 1.03)" font-size="32.2">5 T</text>
<path d="M187 453.44H235" stroke="#e6ab02" stroke-width="1.25" fill="none"/>
<text transform="translate(243.3 467.84) rotate(0.03) scale(1 1.03)" font-size="32.2">6 T</text>
<path d="M187 490.25H235" stroke="#e6ab02" stroke-width="1.25" fill="none"/>
<text transform="translate(243.3 504.65) rotate(0.03) scale(1 1.03)" font-size="32.2">7 T</text>
<path d="M187 527.06H235" stroke="#a6761d" stroke-width="1.25" fill="none"/>
<text transform="translate(243.3 541.46) rotate(0.03) scale(1 1.03)" font-size="32.2">8 T</text>
<path d="M187 563.86H235" stroke="#666666" stroke-width="1.25" fill="none"/>
<text transform="translate(243.3 578.26) rotate(0.03) scale(1 1.03)" font-size="32.2">9 T</text>
</g>
<g id="plot-b">
<clipPath id="cb"><rect x="817.375" y="40.375" width="505.7550000000001" height="758.755"/></clipPath>
<g clip-path="url(#cb)">
<circle cx="1234.5" cy="713.77" r="9.15" fill="#404040"/>
<circle cx="1237.8" cy="723.25" r="9.15" fill="#404040"/>
<circle cx="1241.8" cy="732.74" r="9.15" fill="#404040"/>
<circle cx="1247" cy="742.22" r="9.15" fill="#404040"/>
<circle cx="1251" cy="751.71" r="9.15" fill="#404040"/>
<circle cx="1255.6" cy="761.19" r="9.15" fill="#404040"/>
<circle cx="1259.6" cy="770.68" r="9.15" fill="#404040"/>
<circle cx="1265.5" cy="780.16" r="9.15" fill="#404040"/>
<circle cx="1271.2" cy="789.65" r="9.15" fill="#404040"/>
<circle cx="1276.4" cy="799.13" r="9.15" fill="#404040"/>
<path d="M817.38 60.86 L820.22 61.48 L823.06 62.18 L825.9 62.97 L828.75 63.84 L831.59 64.8 L834.43 65.84 L837.27 66.97 L840.12 68.18 L842.96 69.47 L845.8 70.83 L848.65 72.28 L851.49 73.81 L854.33 75.41 L857.17 77.09 L860.02 78.85 L862.86 80.68 L865.7 82.59 L868.54 84.56 L871.39 86.61 L874.23 88.74 L877.07 90.93 L879.92 93.19 L882.76 95.52 L885.6 97.92 L888.44 100.39 L891.29 102.92 L894.13 105.52 L896.97 108.18 L899.82 110.91 L902.66 113.7 L905.5 116.56 L908.34 119.48 L911.19 122.45 L914.03 125.49 L916.87 128.59 L919.71 131.75 L922.56 134.96 L925.4 138.23 L928.24 141.56 L931.09 144.95 L933.93 148.39 L936.77 151.88 L939.61 155.43 L942.46 159.03 L945.3 162.68 L948.14 166.39 L950.98 170.15 L953.83 173.95 L956.67 177.81 L959.51 181.72 L962.36 185.67 L965.2 189.68 L968.04 193.73 L970.88 197.82 L973.73 201.96 L976.57 206.15 L979.41 210.38 L982.26 214.66 L985.1 218.98 L987.94 223.34 L990.78 227.75 L993.63 232.19 L996.47 236.68 L999.31 241.21 L1002.15 245.78 L1005 250.39 L1007.84 255.03 L1010.68 259.72 L1013.53 264.44 L1016.37 269.2 L1019.21 274 L1022.05 278.83 L1024.9 283.7 L1027.74 288.6 L1030.58 293.54 L1033.43 298.51 L1036.27 303.51 L1039.11 308.55 L1041.95 313.62 L1044.8 318.72 L1047.64 323.86 L1050.48 329.02 L1053.32 334.22 L1056.17 339.45 L1059.01 344.7 L1061.85 349.99 L1064.7 355.3 L1067.54 360.65 L1070.38 366.02 L1073.22 371.42 L1076.07 376.84 L1078.91 382.29 L1081.75 387.77 L1084.59 393.28 L1087.44 398.81 L1090.28 404.36 L1093.12 409.95 L1095.97 415.55 L1098.81 421.18 L1101.65 426.83 L1104.49 432.51 L1107.34 438.21 L1110.18 443.93 L1113.02 449.67 L1115.87 455.44 L1118.71 461.23 L1121.55 467.03 L1124.39 472.86 L1127.24 478.72 L1130.08 484.59 L1132.92 490.48 L1135.76 496.39 L1138.61 502.32 L1141.45 508.27 L1144.29 514.24 L1147.14 520.22 L1149.98 526.23 L1152.82 532.25 L1155.66 538.29 L1158.51 544.35 L1161.35 550.43 L1164.19 556.53 L1167.04 562.64 L1169.88 568.76 L1172.72 574.91 L1175.56 581.07 L1178.41 587.25 L1181.25 593.44 L1184.09 599.65 L1186.93 605.87 L1189.78 612.11 L1192.62 618.36 L1195.46 624.63 L1198.31 630.92 L1201.15 637.22 L1203.99 643.53 L1206.83 649.86 L1209.68 656.2 L1212.52 662.56 L1215.36 668.93 L1218.2 675.31 L1221.05 681.71 L1223.89 688.12 L1226.73 694.55 L1229.58 700.98 L1232.42 707.44 L1235.26 713.9 L1238.1 720.38 L1240.95 726.87 L1243.79 733.38 L1246.63 739.89 L1249.48 746.42 L1252.32 752.97 L1255.16 759.52 L1258 766.09 L1260.85 772.68 L1263.69 779.27 L1266.53 785.88 L1269.37 792.5 L1272.22 799.13 L1273.23 801.13" stroke="#0000ff" stroke-width="1.25" fill="none" stroke-linejoin="round"/>
<path d="M817.38 277.01 L820.23 277.03 L823.08 277.09 L825.93 277.2 L828.79 277.34 L831.64 277.52 L834.49 277.75 L837.35 278.01 L840.2 278.32 L843.05 278.66 L845.91 279.05 L848.76 279.48 L851.61 279.95 L854.47 280.46 L857.32 281.01 L860.17 281.6 L863.03 282.23 L865.88 282.91 L868.73 283.62 L871.59 284.37 L874.44 285.17 L877.29 286.01 L880.15 286.88 L883 287.8 L885.85 288.76 L888.71 289.76 L891.56 290.8 L894.41 291.88 L897.27 293 L900.12 294.16 L902.97 295.37 L905.83 296.61 L908.68 297.9 L911.53 299.22 L914.39 300.59 L917.24 302 L920.09 303.44 L922.95 304.93 L925.8 306.46 L928.65 308.03 L931.51 309.64 L934.36 311.3 L937.21 312.99 L940.07 314.72 L942.92 316.5 L945.77 318.31 L948.63 320.17 L951.48 322.06 L954.33 324 L957.19 325.98 L960.04 328 L962.89 330.06 L965.75 332.16 L968.6 334.3 L971.45 336.48 L974.31 338.71 L977.16 340.97 L980.01 343.28 L982.87 345.62 L985.72 348.01 L988.57 350.43 L991.43 352.9 L994.28 355.41 L997.13 357.96 L999.99 360.55 L1002.84 363.18 L1005.69 365.85 L1008.55 368.57 L1011.4 371.32 L1014.25 374.11 L1017.11 376.95 L1019.96 379.82 L1022.81 382.74 L1025.67 385.7 L1028.52 388.7 L1031.37 391.73 L1034.23 394.81 L1037.08 397.94 L1039.93 401.1 L1042.79 404.3 L1045.64 407.54 L1048.49 410.82 L1051.35 414.15 L1054.2 417.51 L1057.05 420.92 L1059.91 424.37 L1062.76 427.85 L1065.61 431.38 L1068.47 434.95 L1071.32 438.56 L1074.17 442.21 L1077.03 445.9 L1079.88 449.64 L1082.73 453.41 L1085.59 457.22 L1088.44 461.08 L1091.29 464.97 L1094.15 468.91 L1097 472.89 L1099.85 476.91 L1102.71 480.96 L1105.56 485.06 L1108.41 489.2 L1111.27 493.38 L1114.12 497.61 L1116.97 501.87 L1119.82 506.17 L1122.68 510.52 L1125.53 514.9 L1128.38 519.33 L1131.24 523.79 L1134.09 528.3 L1136.94 532.85 L1139.8 537.44 L1142.65 542.07 L1145.5 546.74 L1148.36 551.45 L1151.21 556.2 L1154.06 561 L1156.92 565.83 L1159.77 570.7 L1162.62 575.62 L1165.48 580.57 L1168.33 585.57 L1171.18 590.61 L1174.04 595.69 L1176.89 600.81 L1179.74 605.97 L1182.6 611.17 L1185.45 616.41 L1188.3 621.69 L1191.16 627.01 L1194.01 632.38 L1196.86 637.78 L1199.72 643.23 L1202.57 648.72 L1205.42 654.24 L1208.28 659.81 L1211.13 665.42 L1213.98 671.07 L1216.84 676.76 L1219.69 682.49 L1222.54 688.26 L1225.4 694.07 L1228.25 699.93 L1231.1 705.82 L1233.96 711.76 L1236.81 717.73 L1239.66 723.75 L1242.52 729.81 L1245.37 735.9 L1248.22 742.04 L1251.08 748.22 L1253.93 754.44 L1256.78 760.71 L1259.64 767.01 L1262.49 773.35 L1265.34 779.73 L1268.2 786.16 L1271.05 792.62 L1273.9 799.13 L1274.91 801.13" stroke="#ff0000" stroke-width="1.25" fill="none" stroke-linejoin="round"/>
</g>
<path d="M985.96 799.13V784.83M985.96 40.38V54.67M1154.55 799.13V784.83M1154.55 40.38V54.67M851.09 799.13V791.98M851.09 40.38V47.52M884.81 799.13V791.98M884.81 40.38V47.52M918.53 799.13V791.98M918.53 40.38V47.52M952.24 799.13V791.98M952.24 40.38V47.52M1019.68 799.13V791.98M1019.68 40.38V47.52M1053.39 799.13V791.98M1053.39 40.38V47.52M1087.11 799.13V791.98M1087.11 40.38V47.52M1120.83 799.13V791.98M1120.83 40.38V47.52M1188.26 799.13V791.98M1188.26 40.38V47.52M1221.98 799.13V791.98M1221.98 40.38V47.52M1255.7 799.13V791.98M1255.7 40.38V47.52M1289.41 799.13V791.98M1289.41 40.38V47.52M817.38 609.44H831.67M1323.13 609.44H1308.83M817.38 419.75H831.67M1323.13 419.75H1308.83M817.38 230.06H831.67M1323.13 230.06H1308.83M817.38 751.71H824.52M1323.13 751.71H1315.98M817.38 704.29H824.52M1323.13 704.29H1315.98M817.38 656.86H824.52M1323.13 656.86H1315.98M817.38 562.02H824.52M1323.13 562.02H1315.98M817.38 514.6H824.52M1323.13 514.6H1315.98M817.38 467.17H824.52M1323.13 467.17H1315.98M817.38 372.33H824.52M1323.13 372.33H1315.98M817.38 324.91H824.52M1323.13 324.91H1315.98M817.38 277.49H824.52M1323.13 277.49H1315.98M817.38 182.64H824.52M1323.13 182.64H1315.98M817.38 135.22H824.52M1323.13 135.22H1315.98M817.38 87.8H824.52M1323.13 87.8H1315.98" stroke="#000" stroke-width="1.25" fill="none" stroke-linecap="round"/>
<rect x="817.375" y="40.375" width="505.76" height="758.75" fill="none" stroke="#000" stroke-width="1.25" stroke-linejoin="round"/>
<text transform="translate(800.6 809.11) rotate(0.03) scale(1 1.03)" font-size="32.2" text-anchor="end">0</text>
<text transform="translate(800.6 619.42) rotate(0.03) scale(1 1.03)" font-size="32.2" text-anchor="end">20</text>
<text transform="translate(800.6 429.73) rotate(0.03) scale(1 1.03)" font-size="32.2" text-anchor="end">40</text>
<text transform="translate(800.6 240.04) rotate(0.03) scale(1 1.03)" font-size="32.2" text-anchor="end">60</text>
<text transform="translate(800.6 50.36) rotate(0.03) scale(1 1.03)" font-size="32.2" text-anchor="end">80</text>
<text transform="translate(817.27 840.45) rotate(0.03) scale(1 1.03)" font-size="32.2" text-anchor="middle">0</text>
<text transform="translate(985.86 840.45) rotate(0.03) scale(1 1.03)" font-size="32.2" text-anchor="middle">50</text>
<text transform="translate(1154.45 840.45) rotate(0.03) scale(1 1.03)" font-size="32.2" text-anchor="middle">100</text>
<text transform="translate(1323.03 840.45) rotate(0.03) scale(1 1.03)" font-size="32.2" text-anchor="middle">150</text>
<text transform="translate(1084.9 895.2) rotate(0.03) scale(1 1.015)" font-size="39.3" text-anchor="middle">Temperature (K)</text>
<text transform="translate(737.9 483.2) rotate(-89.97) scale(1 1.025)" font-size="39.3"><tspan font-family='"Liberation Serif", "DejaVu Serif", serif' font-size="42">μ</tspan><tspan font-size="26.3" dy="10.5">0</tspan><tspan dy="-10.5">H (T)</tspan></text>
<text transform="translate(710.7 36.6) rotate(0.03) scale(1 1.03)" font-size="39.5" font-weight="bold">b</text>
<circle cx="1181.2" cy="90.45" r="9.15" fill="#404040"/>
<text transform="translate(1213 103.8) rotate(0.03) scale(1 1.04)" font-size="32.9" font-style="italic">T</text>
<text transform="translate(1231.9 112.7) rotate(0.03)" font-size="21.8">c</text>
<path d="M1159.1 140.375H1203.2" stroke="#0000ff" stroke-width="1.25" fill="none"/>
<text transform="translate(1211.9 153.5) rotate(0.03) scale(1 1.03)" font-size="32.9">WHH</text>
<path d="M1159.1 181.86H1203.2" stroke="#ff0000" stroke-width="1.25" fill="none"/>
<text transform="translate(1211.7 194.6) rotate(0.03) scale(1 1.03)" font-size="32.9">GL</text>
</g>
</svg>
</body></html>
